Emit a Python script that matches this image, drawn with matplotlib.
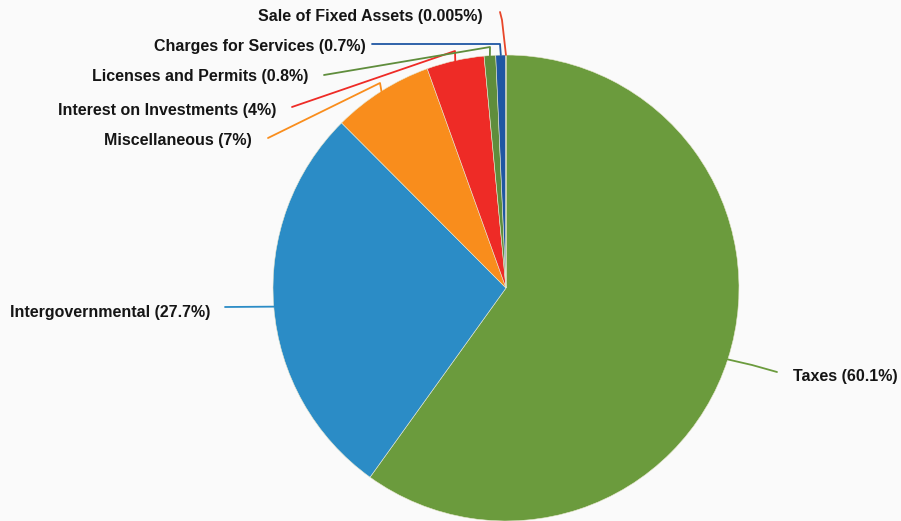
import numpy as np
import matplotlib.pyplot as plt

# revenue sources, clockwise from 12 o'clock
labels = ['Taxes', 'Intergovernmental', 'Miscellaneous', 'Interest on Investments',
          'Licenses and Permits', 'Charges for Services', 'Sale of Fixed Assets']
shares = [60.1, 27.7, 7, 4, 0.8, 0.7, 0.005]
share_txt = ['60.1%', '27.7%', '7%', '4%', '0.8%', '0.7%', '0.005%']
colors = ['#6b9b3d', '#2b8cc6', '#f98d1c', '#ee2b26', '#5f8d3c', '#1f57a3', '#e8462a']

W, H = 901, 521
cx, cy, r = 506, 288, 233  # pie centre / radius in pixels (y from top)


def py(y):
    return H - y


fig = plt.figure(figsize=(W / 100, H / 100), dpi=100)
fig.patch.set_facecolor('#fafafa')
ax = fig.add_axes([0, 0, 1, 1])

wedges, _ = ax.pie(shares, colors=colors, startangle=90, counterclock=False,
                   center=(cx, py(cy)), radius=r,
                   wedgeprops=dict(edgecolor='#e8e8d0', linewidth=0.4))
ax.set_xlim(0, W)
ax.set_ylim(0, H)
ax.set_aspect('equal')
ax.axis('off')

# arc point at each wedge's middle
mids = []
for w in wedges:
    a = np.deg2rad((w.theta1 + w.theta2) / 2)
    mids.append((cx + r * np.cos(a), cy - r * np.sin(a)))

font = dict(family=['Liberation Sans', 'DejaVu Sans'], weight='bold', size=11.5, color='#151515')

# label placement (text anchor x, y, ha) and leader line ends near label
layout = {
    0: ((793, 376, 'left'), [(752, 365), (777, 372)]),
    1: ((210, 312, 'right'), [(225, 307)]),
    2: ((252, 141, 'right'), [(380, 83), (268, 138)]),
    3: ((276, 111, 'right'), [(455, 51), (292, 107)]),
    4: ((308, 77, 'right'), [(490, 47), (324, 75)]),
    5: ((366, 46, 'right'), [(500, 44), (372, 44)]),
    6: ((483, 16, 'right'), [(502, 20), (500, 12)]),
}

for i, ((tx, ty, ha), pts) in layout.items():
    mx, my = mids[i]
    xs = [mx] + [p[0] for p in pts]
    ys = [my] + [p[1] for p in pts]
    ax.plot(xs, [py(v) for v in ys], color=colors[i], lw=1.3,
            solid_capstyle='round', solid_joinstyle='round')
    ax.text(tx, py(ty), f'{labels[i]} ({share_txt[i]})', ha=ha, va='center', **font)

fig.savefig('out.png', dpi=100, facecolor=fig.get_facecolor())
